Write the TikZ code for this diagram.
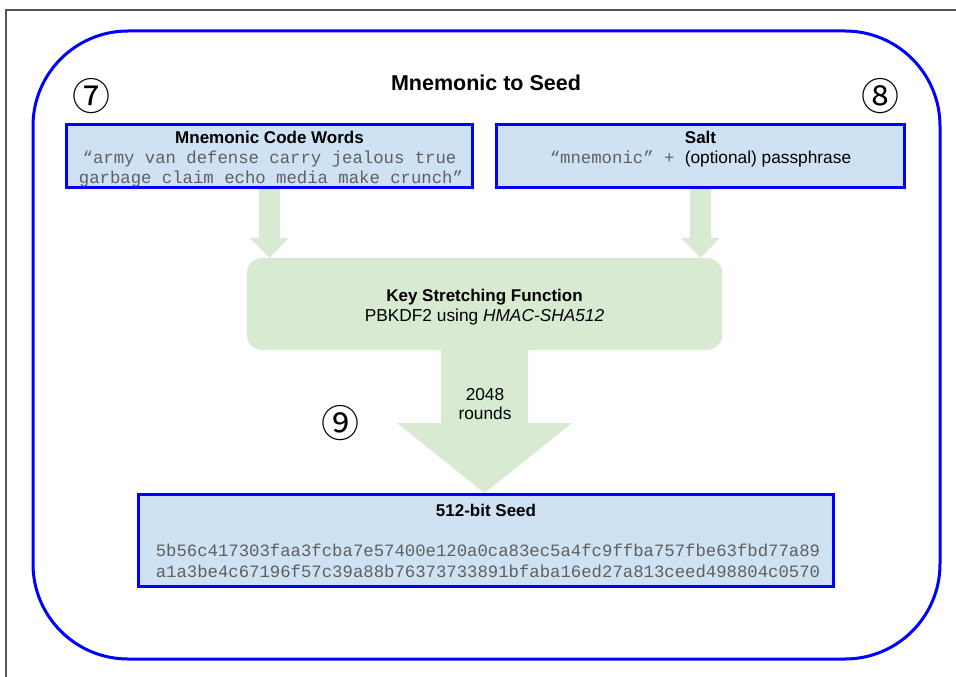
\documentclass[tikz,border=0pt]{standalone}
\usepackage{fontspec}
\setmainfont{Liberation Sans}
\setmonofont{Liberation Mono}
\newfontfamily\circfont{Noto Sans CJK SC}
\usetikzlibrary{calc}
\definecolor{boxblue}{HTML}{CFE2F3}
\definecolor{lineblue}{HTML}{0000FF}
\definecolor{greenfill}{HTML}{D9EAD3}
\definecolor{monogray}{HTML}{5F5F5F}
\definecolor{framegray}{HTML}{555555}
\tikzset{
  bluebox/.style={draw=lineblue, fill=boxblue, line width=3pt, rectangle, inner sep=0pt},
  greenbox/.style={fill=greenfill, rectangle, rounded corners=15pt, inner sep=0pt},
  titletext/.style={font=\fontsize{17}{20}\selectfont\bfseries, inner sep=0pt, anchor=base},
  bodytext/.style={font=\fontsize{17.3}{20}\selectfont, inner sep=0pt, anchor=base},
  monotext/.style={font=\fontsize{17.3}{20}\selectfont\ttfamily, text=monogray, inner sep=0pt, anchor=base},
  circnum/.style={font=\fontsize{38}{42}\selectfont\circfont, inner sep=0pt},
  blockarrow/.style={fill=greenfill, draw=none}
}
\begin{document}
\begin{tikzpicture}[x=1pt,y=-1pt]
\useasboundingbox (0,0) rectangle (956,677);
\fill[white] (0,0) rectangle (956,677);
% outer frame lines
\draw[framegray, line width=1.5pt] (6,677) -- (6,10) -- (956,10);
% outer blue rounded container
\node[draw=lineblue, line width=3pt, rectangle, rounded corners=95pt, minimum width=907pt, minimum height=628pt, inner sep=0pt] (frame) at (486.5,345) {};
\node[font=\fontsize{21.5}{24}\selectfont\bfseries, inner sep=0pt, anchor=base] (title) at (486,90.5) {Mnemonic to Seed};
% circled numbers
\node[circnum] (n7) at (91,96) {⑦};
\node[circnum] (n8) at (880,96) {⑧};
\node[circnum] (n9) at (340,423) {⑨};
% boxes
\node[bluebox, minimum width=406pt, minimum height=63pt] (mn) at (269.5,156) {};
\node[bluebox, minimum width=408pt, minimum height=63pt] (salt) at (700.5,156) {};
\node[greenbox, minimum width=475pt, minimum height=92pt] (ksf) at (484.5,304) {};
\node[bluebox, minimum width=695pt, minimum height=92pt] (seed) at (486,540.5) {};
% texts in mnemonic box
\node[titletext] (mnt) at (269.5,143.5) {Mnemonic Code Words};
\node[monotext] (mn1) at (269.5,163.5) {“army van defense carry jealous true};
\node[monotext] (mn2) at (271,183.5) {garbage claim echo media make crunch”};
% salt
\node[titletext] (saltt) at (700.5,143.5) {Salt};
\node[bodytext] (salt1) at (700.5,163.5) {{\ttfamily\color{monogray}“mnemonic” + }(optional) passphrase};
% ksf
\node[titletext] (ksft) at (484.5,301.5) {Key Stretching Function};
\node[bodytext] (ksf1) at (484.5,321.5) {PBKDF2 using \textit{HMAC-SHA512}};
% seed
\node[titletext] (seedt) at (486,516.5) {512-bit Seed};
\node[monotext] (seed1) at (488,556.5) {5b56c417303faa3fcba7e57400e120a0ca83ec5a4fc9ffba757fbe63fbd77a89};
\node[monotext] (seed2) at (488,577.5) {a1a3be4c67196f57c39a88b76373733891bfaba16ed27a813ceed498804c0570};
% block arrows
\coordinate (tipL) at (ksf.north -| mn.south);
\coordinate (tipR) at (ksf.north -| salt.south);
\coordinate (tipB) at (seed.north -| ksf.south);
\fill[blockarrow] ($(mn.south)+(-10.5,0)$) -- ($(mn.south)+(10.5,0)$) -- ($(tipL)+(10.5,-20)$) -- ($(tipL)+(19.5,-20)$) -- (tipL) -- ($(tipL)+(-19.5,-20)$) -- ($(tipL)+(-10.5,-20)$) -- cycle;
\fill[blockarrow] ($(salt.south)+(-10.5,0)$) -- ($(salt.south)+(10.5,0)$) -- ($(tipR)+(10.5,-20)$) -- ($(tipR)+(19.5,-20)$) -- (tipR) -- ($(tipR)+(-19.5,-20)$) -- ($(tipR)+(-10.5,-20)$) -- cycle;
\fill[blockarrow] ($(ksf.south)+(-43.5,0)$) -- ($(ksf.south)+(43.5,0)$) -- ($(tipB)+(43.5,-70)$) -- ($(tipB)+(87.5,-70)$) -- (tipB) -- ($(tipB)+(-87.5,-70)$) -- ($(tipB)+(-43.5,-70)$) -- cycle;
\node[bodytext] (r1) at (485,400) {2048};
\node[bodytext] (r2) at (485,419.5) {rounds};
\end{tikzpicture}
\end{document}
